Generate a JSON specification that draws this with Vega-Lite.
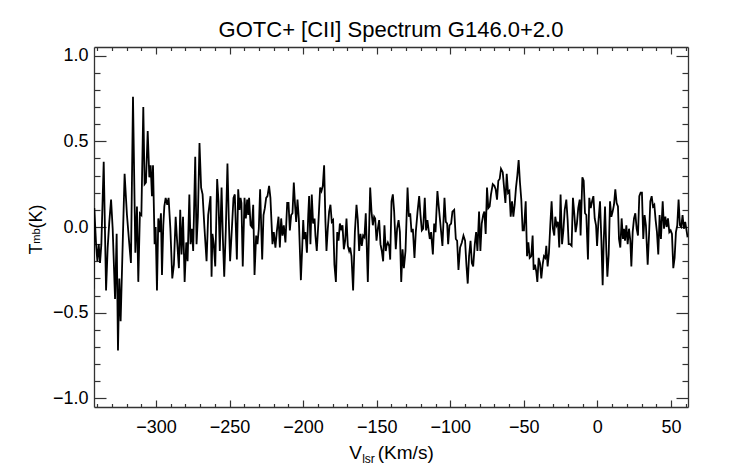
{
  "$schema": "https://vega.github.io/schema/vega-lite/v6.json",
  "description": "GOTC+ [CII] spectrum G146.0+2.0",
  "width": 594,
  "height": 360,
  "autosize": {"type": "none"},
  "padding": {"left": 94, "top": 47, "right": 54, "bottom": 57},
  "background": "white",
  "title": {
    "text": "GOTC+ [CII] Spectrum G146.0+2.0",
    "font": "Liberation Sans",
    "fontSize": 22,
    "fontWeight": "normal",
    "color": "black",
    "anchor": "middle",
    "offset": 4
  },
  "data": {
    "values": [
      {"v":-342.5,"t":-0.36},{"v":-341.9,"t":0.11},{"v":-340.7,"t":-0.10},{"v":-339.8,"t":-0.20},{"v":-338.9,"t":-0.10},{"v":-338.0,"t":-0.21},{"v":-337.1,"t":-0.10},{"v":-335.5,"t":0.38},{"v":-333.9,"t":-0.37},{"v":-332.8,"t":-0.12},{"v":-331.7,"t":0.03},{"v":-330.5,"t":0.16},{"v":-329.4,"t":-0.01},{"v":-327.8,"t":-0.42},{"v":-326.7,"t":-0.04},{"v":-325.8,"t":-0.72},{"v":-324.9,"t":-0.30},{"v":-324.0,"t":-0.55},{"v":-322.6,"t":-0.10},{"v":-321.3,"t":0.31},{"v":-319.7,"t":0.07},{"v":-318.1,"t":-0.10},{"v":-317.0,"t":-0.21},{"v":-315.6,"t":0.76},{"v":-314.0,"t":-0.15},{"v":-312.9,"t":0.12},{"v":-312.0,"t":-0.32},{"v":-310.9,"t":0.08},{"v":-309.9,"t":0.07},{"v":-308.6,"t":0.70},{"v":-307.7,"t":0.25},{"v":-306.8,"t":0.26},{"v":-305.6,"t":0.56},{"v":-304.5,"t":0.29},{"v":-303.6,"t":0.36},{"v":-302.7,"t":0.18},{"v":-302.0,"t":0.36},{"v":-300.9,"t":-0.10},{"v":-300.2,"t":0.00},{"v":-299.3,"t":-0.37},{"v":-298.4,"t":0.05},{"v":-297.5,"t":-0.03},{"v":-296.6,"t":0.08},{"v":-295.9,"t":-0.28},{"v":-295.0,"t":0.01},{"v":-294.3,"t":0.12},{"v":-293.4,"t":0.17},{"v":-292.3,"t":0.13},{"v":-291.4,"t":0.17},{"v":-290.2,"t":-0.01},{"v":-288.9,"t":-0.30},{"v":-287.8,"t":-0.22},{"v":-286.6,"t":0.06},{"v":-285.7,"t":-0.07},{"v":-284.4,"t":-0.24},{"v":-283.5,"t":0.10},{"v":-282.6,"t":-0.16},{"v":-281.6,"t":0.06},{"v":-280.5,"t":-0.32},{"v":-279.4,"t":-0.09},{"v":-278.5,"t":-0.20},{"v":-277.3,"t":0.19},
      {"v":-276.5,"t":-0.10},{"v":-275.6,"t":-0.01},{"v":-274.7,"t":-0.14},{"v":-273.3,"t":0.41},{"v":-272.4,"t":-0.10},{"v":-271.5,"t":0.06},{"v":-270.4,"t":0.49},{"v":-269.3,"t":0.23},{"v":-268.3,"t":0.19},{"v":-267.0,"t":-0.01},{"v":-265.6,"t":-0.20},{"v":-264.5,"t":0.07},{"v":-262.9,"t":0.18},{"v":-262.2,"t":-0.29},{"v":-261.6,"t":-0.04},{"v":-260.7,"t":-0.10},{"v":-259.7,"t":-0.23},{"v":-258.4,"t":0.28},{"v":-257.5,"t":0.15},{"v":-256.6,"t":-0.14},{"v":-255.4,"t":0.23},{"v":-254.5,"t":-0.07},{"v":-253.6,"t":-0.29},{"v":-252.5,"t":-0.01},{"v":-251.4,"t":0.37},{"v":-250.5,"t":0.05},{"v":-249.6,"t":-0.20},{"v":-248.4,"t":-0.01},{"v":-247.3,"t":0.17},{"v":-246.4,"t":0.19},{"v":-245.0,"t":-0.19},{"v":-244.1,"t":0.22},{"v":-243.2,"t":0.10},{"v":-242.5,"t":0.17},{"v":-241.9,"t":0.14},{"v":-241.0,"t":-0.23},{"v":-239.8,"t":0.17},{"v":-238.9,"t":0.05},{"v":-238.0,"t":0.16},{"v":-237.3,"t":0.07},{"v":-236.7,"t":0.17},{"v":-235.7,"t":0.01},{"v":-234.8,"t":0.00},{"v":-233.9,"t":0.13},{"v":-233.0,"t":-0.28},{"v":-231.9,"t":-0.05},{"v":-231.0,"t":-0.10},{"v":-230.1,"t":-0.01},{"v":-229.2,"t":0.22},{"v":-227.8,"t":-0.19},{"v":-226.9,"t":0.07},{"v":-226.0,"t":0.11},{"v":-225.1,"t":0.17},{"v":-224.2,"t":0.18},{"v":-223.1,"t":0.24},{"v":-222.2,"t":0.17},{"v":-220.8,"t":-0.10},{"v":-219.9,"t":-0.03},{"v":-218.8,"t":-0.12},{"v":-217.9,"t":-0.03},{"v":-216.7,"t":0.06},{"v":-215.8,"t":-0.12},{"v":-214.9,"t":0.05},{"v":-214.0,"t":-0.05},{"v":-213.1,"t":0.01},{"v":-212.0,"t":-0.09},{"v":-210.8,"t":0.14},
      {"v":-209.9,"t":0.14},{"v":-209.0,"t":-0.02},{"v":-208.1,"t":0.07},{"v":-207.2,"t":0.08},{"v":-206.3,"t":0.26},{"v":-205.4,"t":0.12},{"v":-204.7,"t":0.03},{"v":-203.8,"t":0.16},{"v":-202.9,"t":0.05},{"v":-201.5,"t":-0.31},{"v":-200.6,"t":-0.12},{"v":-199.9,"t":0.04},{"v":-199.3,"t":-0.07},{"v":-198.4,"t":-0.03},{"v":-197.4,"t":-0.15},{"v":-196.5,"t":0.07},{"v":-195.9,"t":0.18},{"v":-195.0,"t":-0.10},{"v":-194.1,"t":0.19},{"v":-193.2,"t":0.02},{"v":-192.2,"t":0.05},{"v":-191.6,"t":-0.05},{"v":-190.7,"t":-0.14},{"v":-189.5,"t":0.04},{"v":-188.4,"t":0.23},{"v":-187.5,"t":0.21},{"v":-186.6,"t":0.24},{"v":-185.7,"t":0.36},{"v":-184.8,"t":0.03},{"v":-184.1,"t":-0.14},{"v":-183.2,"t":-0.01},{"v":-182.3,"t":0.09},{"v":-181.4,"t":0.13},{"v":-180.5,"t":0.03},{"v":-179.6,"t":0.04},{"v":-178.7,"t":-0.22},{"v":-177.7,"t":-0.32},{"v":-176.8,"t":-0.03},{"v":-175.9,"t":-0.08},{"v":-175.0,"t":0.02},{"v":-174.1,"t":-0.01},{"v":-173.2,"t":0.01},{"v":-172.3,"t":-0.13},{"v":-171.4,"t":-0.08},{"v":-170.5,"t":0.05},{"v":-169.6,"t":-0.11},{"v":-168.7,"t":-0.14},{"v":-168.0,"t":-0.12},{"v":-167.1,"t":-0.17},{"v":-166.0,"t":-0.37},{"v":-164.8,"t":-0.03},{"v":-163.7,"t":0.13},{"v":-162.8,"t":0.04},{"v":-161.9,"t":-0.14},{"v":-161.0,"t":-0.04},{"v":-160.1,"t":-0.11},{"v":-159.2,"t":-0.05},{"v":-158.3,"t":-0.06},{"v":-157.4,"t":0.08},{"v":-156.0,"t":-0.32},{"v":-155.3,"t":-0.07},{"v":-154.4,"t":0.23},{"v":-153.5,"t":0.09},{"v":-152.6,"t":0.01},{"v":-151.7,"t":0.06},{"v":-151.0,"t":0.05},{"v":-150.1,"t":-0.08},{"v":-149.2,"t":-0.01},{"v":-148.3,"t":0.04},{"v":-147.4,"t":-0.10},{"v":-146.5,"t":-0.14},{"v":-145.6,"t":-0.20},{"v":-144.7,"t":0.01},{"v":-143.8,"t":-0.14},
      {"v":-143.3,"t":-0.11},{"v":-142.4,"t":-0.09},{"v":-141.5,"t":-0.11},{"v":-140.8,"t":-0.19},{"v":-139.9,"t":0.15},{"v":-139.0,"t":0.19},{"v":-138.1,"t":0.09},{"v":-137.0,"t":-0.13},{"v":-136.1,"t":-0.01},{"v":-135.1,"t":0.04},{"v":-134.2,"t":-0.03},{"v":-133.3,"t":-0.32},{"v":-132.4,"t":-0.13},{"v":-131.5,"t":-0.24},{"v":-130.4,"t":-0.14},{"v":-129.0,"t":0.23},{"v":-128.1,"t":0.06},{"v":-127.2,"t":0.08},{"v":-126.3,"t":-0.03},{"v":-125.4,"t":-0.01},{"v":-124.3,"t":-0.18},{"v":-123.4,"t":-0.03},{"v":-122.2,"t":0.09},{"v":-121.1,"t":0.18},{"v":-120.2,"t":0.07},{"v":-119.3,"t":-0.02},{"v":-118.4,"t":-0.01},{"v":-117.3,"t":0.17},{"v":-116.4,"t":-0.02},{"v":-115.5,"t":0.04},{"v":-114.5,"t":-0.03},{"v":-113.9,"t":-0.07},{"v":-113.0,"t":-0.03},{"v":-111.8,"t":-0.16},{"v":-110.9,"t":0.02},{"v":-110.0,"t":-0.03},{"v":-108.7,"t":0.21},{"v":-107.8,"t":0.12},{"v":-106.6,"t":0.01},{"v":-105.3,"t":-0.11},{"v":-103.9,"t":0.17},{"v":-103.0,"t":0.03},{"v":-102.1,"t":0.02},{"v":-101.4,"t":-0.10},{"v":-100.5,"t":0.01},{"v":-99.4,"t":0.02},{"v":-98.5,"t":0.09},{"v":-97.3,"t":0.10},{"v":-96.2,"t":-0.07},{"v":-95.3,"t":-0.08},{"v":-94.4,"t":-0.25},{"v":-93.3,"t":-0.12},{"v":-92.1,"t":-0.09},{"v":-91.0,"t":-0.05},{"v":-89.9,"t":-0.08},{"v":-89.0,"t":-0.22},{"v":-88.1,"t":-0.33},{"v":-87.2,"t":-0.17},{"v":-86.2,"t":-0.08},{"v":-85.3,"t":-0.21},{"v":-84.4,"t":-0.23},{"v":-83.3,"t":-0.10},{"v":-82.4,"t":-0.03},{"v":-81.5,"t":-0.14},{"v":-80.4,"t":0.09},{"v":-79.5,"t":-0.14},{"v":-78.6,"t":0.02},{"v":-77.6,"t":0.07},
      {"v":-76.8,"t":0.09},{"v":-75.9,"t":-0.04},{"v":-75.0,"t":0.23},{"v":-74.1,"t":0.11},{"v":-73.2,"t":0.12},{"v":-72.3,"t":0.19},{"v":-71.1,"t":0.25},{"v":-70.0,"t":0.24},{"v":-69.1,"t":0.22},{"v":-68.2,"t":0.16},{"v":-67.3,"t":0.27},{"v":-66.4,"t":0.28},{"v":-65.5,"t":0.34},{"v":-64.3,"t":0.32},{"v":-63.4,"t":0.23},{"v":-62.5,"t":0.14},{"v":-61.6,"t":0.31},{"v":-60.7,"t":0.20},{"v":-59.8,"t":0.21},{"v":-58.9,"t":0.06},{"v":-58.0,"t":0.15},{"v":-57.1,"t":0.06},{"v":-56.2,"t":0.13},{"v":-55.3,"t":0.23},{"v":-54.4,"t":0.30},{"v":-53.5,"t":0.39},{"v":-52.6,"t":0.26},{"v":-51.7,"t":0.16},{"v":-50.8,"t":-0.02},{"v":-49.9,"t":-0.02},{"v":-48.7,"t":0.15},{"v":-47.8,"t":-0.17},{"v":-46.9,"t":-0.09},{"v":-46.0,"t":-0.18},{"v":-44.9,"t":-0.17},{"v":-44.0,"t":-0.05},{"v":-43.3,"t":-0.25},{"v":-42.4,"t":-0.22},{"v":-41.5,"t":-0.26},{"v":-40.8,"t":-0.32},{"v":-39.9,"t":-0.18},{"v":-39.0,"t":-0.21},{"v":-38.1,"t":-0.30},{"v":-37.2,"t":-0.22},{"v":-36.3,"t":-0.17},{"v":-35.4,"t":-0.18},{"v":-34.7,"t":-0.11},{"v":-33.8,"t":-0.23},{"v":-32.9,"t":-0.15},{"v":-32.0,"t":0.01},{"v":-31.1,"t":0.15},{"v":-30.2,"t":-0.01},{"v":-29.3,"t":-0.05},{"v":-28.6,"t":0.06},{"v":-27.7,"t":0.01},{"v":-26.8,"t":0.03},{"v":-25.9,"t":-0.12},{"v":-25.0,"t":0.19},{"v":-24.0,"t":-0.10},{"v":-23.1,"t":-0.02},{"v":-22.2,"t":0.10},{"v":-21.1,"t":0.16},{"v":-20.2,"t":0.04},{"v":-19.5,"t":-0.10},{"v":-18.6,"t":-0.10},{"v":-17.5,"t":-0.11},{"v":-16.6,"t":0.17},{"v":-15.7,"t":0.08},{"v":-14.8,"t":-0.03},{"v":-13.9,"t":0.02},{"v":-13.0,"t":0.11},{"v":-12.0,"t":0.16},{"v":-11.4,"t":-0.05},
      {"v":-10.2,"t":0.29},{"v":-9.3,"t":0.27},{"v":-8.4,"t":0.08},{"v":-7.5,"t":0.07},{"v":-6.4,"t":-0.19},{"v":-5.5,"t":0.17},{"v":-4.5,"t":0.11},{"v":-3.6,"t":0.15},{"v":-2.7,"t":0.18},{"v":-1.8,"t":0.05},{"v":-0.9,"t":0.01},{"v":-0.2,"t":-0.11},{"v":0.7,"t":0.03},{"v":1.8,"t":0.15},{"v":2.7,"t":-0.07},{"v":3.6,"t":-0.34},{"v":4.3,"t":-0.09},{"v":5.2,"t":0.12},{"v":6.1,"t":-0.14},{"v":6.8,"t":-0.29},{"v":7.7,"t":-0.16},{"v":8.6,"t":0.15},{"v":9.5,"t":0.06},{"v":10.4,"t":0.09},{"v":11.3,"t":0.13},{"v":12.2,"t":0.22},{"v":13.1,"t":0.14},{"v":14.0,"t":0.12},{"v":14.7,"t":-0.07},{"v":15.6,"t":-0.12},{"v":16.5,"t":0.05},{"v":17.4,"t":-0.07},{"v":18.1,"t":-0.01},{"v":18.8,"t":-0.08},{"v":19.7,"t":0.01},{"v":20.6,"t":-0.10},{"v":21.5,"t":-0.01},{"v":22.4,"t":-0.08},{"v":23.1,"t":-0.23},{"v":24.0,"t":-0.03},{"v":24.9,"t":0.05},{"v":25.8,"t":0.08},{"v":26.7,"t":-0.01},{"v":27.6,"t":-0.05},{"v":28.5,"t":0.18},{"v":29.4,"t":0.20},{"v":30.3,"t":0.20},{"v":31.2,"t":-0.07},{"v":32.1,"t":0.07},{"v":33.0,"t":0.01},{"v":34.2,"t":-0.22},{"v":35.1,"t":-0.05},{"v":36.0,"t":0.15},{"v":36.9,"t":0.18},{"v":37.8,"t":0.12},{"v":38.7,"t":0.13},{"v":39.6,"t":0.04},{"v":40.5,"t":-0.03},{"v":41.4,"t":-0.16},{"v":42.3,"t":0.07},{"v":43.2,"t":-0.07},{"v":44.4,"t":0.15},{"v":45.3,"t":-0.01},{"v":46.2,"t":0.06},{"v":47.1,"t":0.00},{"v":48.0,"t":0.05},{"v":48.9,"t":-0.03},{"v":49.8,"t":-0.02},{"v":50.7,"t":-0.04},{"v":51.6,"t":-0.24},{"v":52.5,"t":-0.18},{"v":53.4,"t":-0.03},{"v":54.3,"t":0.01},{"v":55.2,"t":0.16},{"v":56.1,"t":0.01},{"v":57.0,"t":0.00},{"v":57.9,"t":0.07},{"v":58.8,"t":-0.01},{"v":59.7,"t":0.03},{"v":60.6,"t":-0.02},{"v":61.3,"t":-0.06}
    ]
  },
  "layer": [
    {
      "mark": {"type": "line", "color": "black", "strokeWidth": 1.8, "clip": true},
      "encoding": {
        "x": {
          "field": "v",
          "type": "quantitative",
          "scale": {"domain": [-342.1, 61.6], "nice": false, "zero": false},
          "axis": {
            "orient": "bottom",
            "values": [-340,-330,-320,-310,-300,-290,-280,-270,-260,-250,-240,-230,-220,-210,-200,-190,-180,-170,-160,-150,-140,-130,-120,-110,-100,-90,-80,-70,-60,-50,-40,-30,-20,-10,0,10,20,30,40,50,60],
            "format": "d",
            "labelExpr": "abs(datum.value % 50) < 0.01 ? datum.label : ''",
            "labelOverlap": false,
            "labelFlush": false,
            "labelFontSize": 18,
            "labelPadding": 18,
            "tickSize": {"condition": {"test": "abs(datum.value % 50) < 0.01", "value": -7}, "value": -3.5},
            "title": "V\u00a0\u00a0\u00a0(Km/s)",
            "titleFontSize": 19,
            "titleFontWeight": "normal",
            "titleAlign": "center",
            "titleBaseline": "alphabetic",
            "titleX": 297,
            "titleY": 51
          }
        },
        "y": {
          "field": "t",
          "type": "quantitative",
          "scale": {"domain": [-1.05, 1.05], "nice": false, "zero": false},
          "axis": {
            "orient": "left",
            "values": [-1.0,-0.9,-0.8,-0.7,-0.6,-0.5,-0.4,-0.3,-0.2,-0.1,0.0,0.1,0.2,0.3,0.4,0.5,0.6,0.7,0.8,0.9,1.0],
            "format": ".1f",
            "labelExpr": "abs(datum.value * 2 - round(datum.value * 2)) < 0.001 ? datum.label : ''",
            "labelOverlap": false,
            "labelFlush": false,
            "labelFontSize": 18,
            "labelPadding": 18,
            "tickSize": {"condition": {"test": "abs(datum.value * 2 - round(datum.value * 2)) < 0.001", "value": -12}, "value": -6},
            "title": "T\u00a0\u00a0\u00a0(K)",
            "titleFontSize": 18,
            "titleFontWeight": "normal",
            "titleAngle": -90,
            "titleAlign": "center",
            "titleBaseline": "alphabetic",
            "titleX": -53,
            "titleY": 182
          }
        }
      }
    },
    {
      "mark": {"type": "line", "opacity": 0, "clip": true},
      "encoding": {
        "x": {
          "field": "v",
          "type": "quantitative",
          "axis": {
            "orient": "top",
            "values": [-340,-330,-320,-310,-300,-290,-280,-270,-260,-250,-240,-230,-220,-210,-200,-190,-180,-170,-160,-150,-140,-130,-120,-110,-100,-90,-80,-70,-60,-50,-40,-30,-20,-10,0,10,20,30,40,50,60],
            "labels": false,
            "tickSize": {"condition": {"test": "abs(datum.value % 50) < 0.01", "value": -7}, "value": -3.5},
            "title": "lsr",
            "titleFontSize": 12,
            "titleFontWeight": "normal",
            "titleAngle": 0,
            "titleAlign": "center",
            "titleBaseline": "alphabetic",
            "titleX": 274,
            "titleY": 415
          }
        },
        "y": {
          "field": "t",
          "type": "quantitative",
          "axis": {
            "orient": "right",
            "values": [-1.0,-0.9,-0.8,-0.7,-0.6,-0.5,-0.4,-0.3,-0.2,-0.1,0.0,0.1,0.2,0.3,0.4,0.5,0.6,0.7,0.8,0.9,1.0],
            "labels": false,
            "tickSize": {"condition": {"test": "abs(datum.value * 2 - round(datum.value * 2)) < 0.001", "value": -12}, "value": -6},
            "title": "mb",
            "titleFontSize": 11,
            "titleFontWeight": "normal",
            "titleAngle": 270,
            "titleAlign": "center",
            "titleBaseline": "alphabetic",
            "titleX": -649,
            "titleY": 188.5
          }
        }
      }
    }
  ],
  "resolve": {"axis": {"x": "independent", "y": "independent"}},
  "config": {
    "view": {"stroke": null},
    "axis": {
      "grid": false,
      "domainColor": "#333333",
      "tickColor": "#333333",
      "domainWidth": 1.3,
      "tickWidth": 1.2,
      "labelFont": "Liberation Sans",
      "titleFont": "Liberation Sans",
      "labelColor": "black",
      "titleColor": "black"
    }
  }
}
